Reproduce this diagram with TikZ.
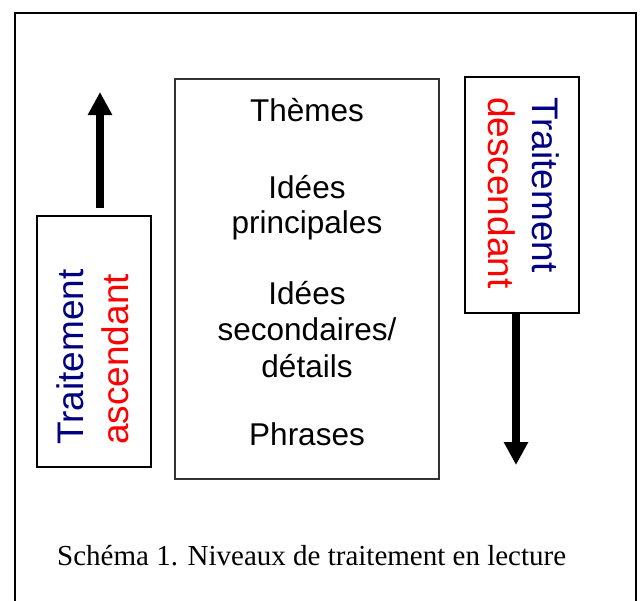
\documentclass[tikz,border=0pt]{standalone}
\usepackage{fontspec}
\setmainfont{Liberation Sans}
\newfontfamily\capfont{Liberation Serif}
\usetikzlibrary{arrows.meta}
\definecolor{navyblue}{RGB}{0,0,128}
\definecolor{pured}{RGB}{255,0,0}
\tikzset{
  frame/.style={draw=black, line width=1.8pt},
  sidebox/.style={draw=black, line width=1.6pt, inner sep=0pt},
  midbox/.style={draw=black!80, line width=1.3pt, inner sep=0pt},
  midtext/.style={font=\fontsize{31.5}{36}\selectfont, anchor=base, inner sep=0pt},
  sidetext/.style={font=\fontsize{37}{44}\selectfont, anchor=base west, inner sep=0pt},
  bigarrow/.style={line width=8pt, -{Triangle[width=23pt,length=23pt]}},
  captext/.style={font=\capfont\fontsize{29}{34}\selectfont, anchor=base west, inner sep=0pt}
}
\begin{document}
\begin{tikzpicture}[x=1pt,y=-1pt]
\useasboundingbox (0,0) rectangle (644,600);
\clip (0,0) rectangle (644,600);
% outer frame
\draw[frame] (15,13) rectangle (636,620);
% boxes
\node[sidebox, minimum width=114pt, minimum height=251pt] (asc) at (94,341.5) {};
\node[midbox, minimum width=264pt, minimum height=400pt] (mid) at (307,279) {};
\node[sidebox, minimum width=114pt, minimum height=236pt] (desc) at (522,195) {};
% middle texts
\node[midtext] (t1) at (307,121) {Thèmes};
\node[midtext] (t2) at (307,198) {Idées};
\node[midtext] (t3) at (307,233) {principales};
\node[midtext] (t4) at (307,304) {Idées};
\node[midtext] (t5) at (307,340) {secondaires/};
\node[midtext] (t6) at (307,377) {détails};
\node[midtext] (t7) at (307,445) {Phrases};
% rotated side texts
\node[sidetext, rotate=90, text=navyblue] (a1) at (83,445) {Traitement};
\node[sidetext, rotate=90, text=pured] (a2) at (128,445) {ascendant};
\node[sidetext, rotate=-90, text=navyblue] (d1) at (532,97) {Traitement};
\node[sidetext, rotate=-90, text=pured] (d2) at (488,97) {descendant};
% arrows
\coordinate (upstart) at (100,208);
\coordinate (uptip) at (100,92);
\draw[bigarrow] (upstart) -- (uptip);
\coordinate (downx) at (516,0);
\coordinate (downtip) at (516,465);
\draw[bigarrow] (desc.south -| downx) -- (downtip);
% caption
\node[captext] (cap) at (57,565) {Schéma 1. Niveaux de traitement en lecture};
\end{tikzpicture}
\end{document}
